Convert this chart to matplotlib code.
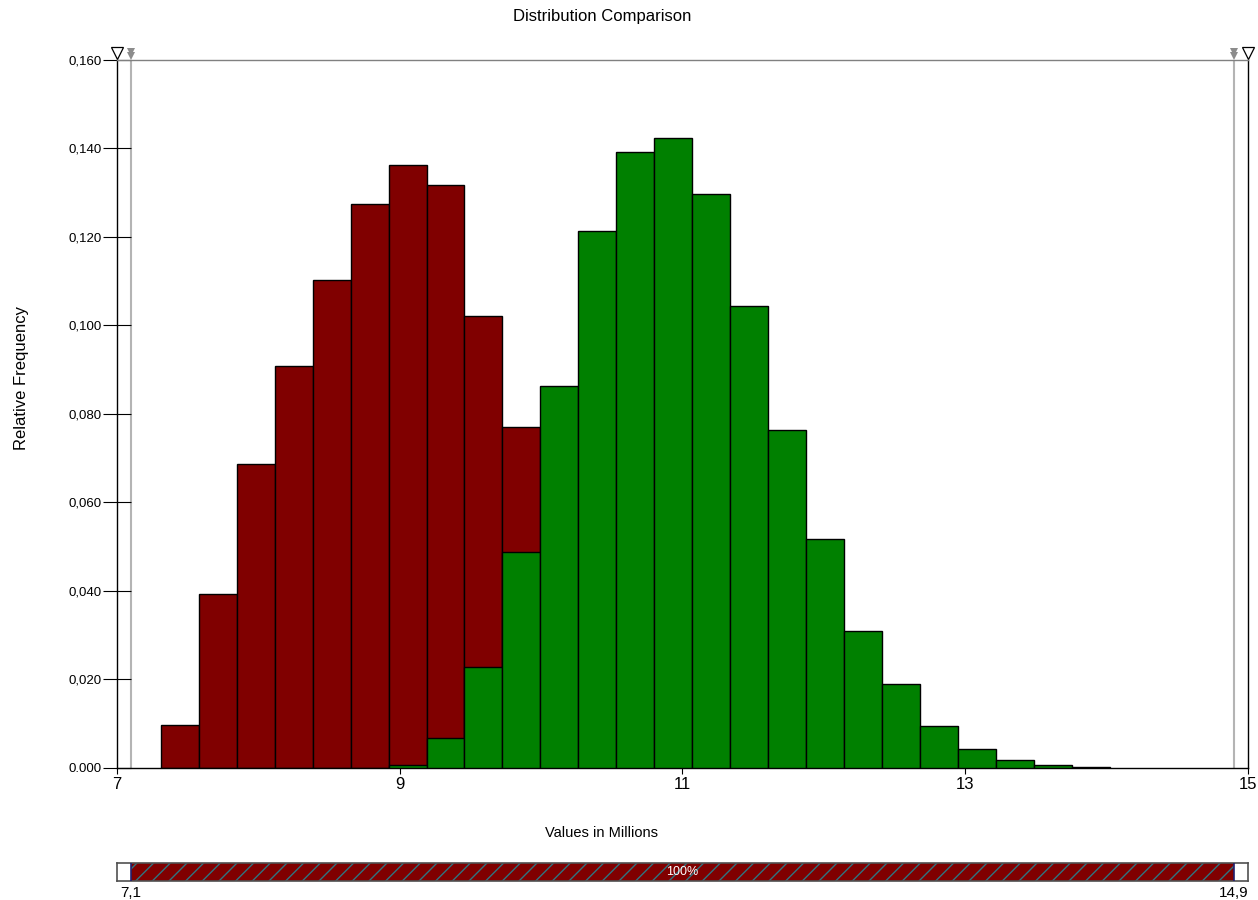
import numpy as np
import matplotlib.pyplot as plt
from matplotlib.patches import Rectangle

plt.rcParams['font.family'] = ['Liberation Sans', 'DejaVu Sans']

# 直方图分箱（百万）
bin_start = 7.31
bin_width = 0.2685

# 红色分布：第0到第9个分箱
red_first_bin = 0
red_freq = [0.0097, 0.0393, 0.0687, 0.0908, 0.1103, 0.1275, 0.1363, 0.1318, 0.1021, 0.0770]

# 绿色分布：第6到第24个分箱
green_first_bin = 6
green_freq = [0.0007, 0.0068, 0.0228, 0.0488, 0.0863, 0.1214, 0.1392, 0.1424, 0.1297,
              0.1044, 0.0764, 0.0518, 0.0310, 0.0190, 0.0095, 0.0043, 0.0018, 0.0007, 0.0002]

y_ticks = [0.000, 0.020, 0.040, 0.060, 0.080, 0.100, 0.120, 0.140, 0.160]
y_ticklabels = ['0.000', '0,020', '0,040', '0,060', '0,080', '0,100', '0,120', '0,140', '0,160']
x_ticks = [7, 9, 11, 13, 15]
x_ticklabels = ['7', '9', '11', '13', '15']

x_min, x_max = 7, 15
left_mark, right_mark = 7.1, 14.9  # 滑块的左右界限

fig = plt.figure(figsize=(12.58, 9), dpi=100)
ax = fig.add_axes([0.0930, 0.1467, 0.8990, 0.7867])

red_left = bin_start + bin_width * (red_first_bin + np.arange(len(red_freq)))
green_left = bin_start + bin_width * (green_first_bin + np.arange(len(green_freq)))

ax.bar(red_left, red_freq, width=bin_width, align='edge', color='#800000',
       edgecolor='black', linewidth=1.0, zorder=2)
ax.bar(green_left, green_freq, width=bin_width, align='edge', color='#008000',
       edgecolor='black', linewidth=1.0, zorder=3)

# 灰色的界限竖线
for xm in (left_mark, right_mark):
    ax.axvline(xm, color='#b4b4b4', linewidth=1.5, zorder=1)

ax.set_xlim(x_min, x_max)
ax.set_ylim(0, 0.160)
ax.set_xticks(x_ticks)
ax.set_xticklabels(x_ticklabels, fontsize=12)
ax.set_yticks(y_ticks)
ax.set_yticklabels(y_ticklabels, fontsize=9.5)
ax.tick_params(axis='y', direction='inout', length=20, width=0.8, pad=1)
ax.tick_params(axis='x', direction='out', length=4.5, width=0.8, pad=2)

for side in ('left', 'bottom', 'right'):
    ax.spines[side].set_color('black')
    ax.spines[side].set_linewidth(1.0)
ax.spines['top'].set_color('#808080')
ax.spines['top'].set_linewidth(1.0)

# 顶部三角标记
for xm in (x_min, x_max):
    ax.plot([xm], [0.1616], marker='v', markersize=9, markerfacecolor='white',
            markeredgecolor='black', markeredgewidth=0.9, clip_on=False, zorder=5)
for xm in (left_mark, right_mark):
    ax.plot([xm], [0.1617], marker='v', markersize=6, color='#8c8c8c',
            markeredgewidth=0, clip_on=False, zorder=5)
    ax.plot([xm], [0.1610], marker='v', markersize=6, color='#8c8c8c',
            markeredgewidth=0, clip_on=False, zorder=5)

fig.text(0.4785, 0.982, 'Distribution Comparison', ha='center', va='center', fontsize=12)
fig.text(0.4785, 0.0744, 'Values in Millions', ha='center', va='center', fontsize=10.5)
fig.text(0.017, 0.58, 'Relative Frequency', ha='center', va='center', rotation=90, fontsize=12)

# 底部滑块
sx = fig.add_axes([0.0930, 0.0211, 0.8990, 0.0200])
sx.set_xlim(x_min, x_max)
sx.set_ylim(0, 1)
sx.add_patch(Rectangle((left_mark, 0), right_mark - left_mark, 1, facecolor='#800000',
                       edgecolor='none', zorder=1))
sx.add_patch(Rectangle((left_mark, 0), right_mark - left_mark, 1, fill=False, hatch='//',
                       edgecolor='#2f7480', linewidth=0, zorder=2))
for xm in (left_mark, right_mark):
    sx.axvline(xm, color='#202070', linewidth=1.2, zorder=3)
sx.text((left_mark + right_mark) / 2, 0.5, '100%', color='white', ha='center', va='center',
        fontsize=9, zorder=4)
sx.set_xticks([])
sx.set_yticks([])
for side in sx.spines:
    sx.spines[side].set_color('#505050')
    sx.spines[side].set_linewidth(1.2)
sx.text(left_mark, -0.3, '7,1', ha='center', va='top', fontsize=11, clip_on=False)
sx.text(right_mark, -0.3, '14,9', ha='center', va='top', fontsize=11, clip_on=False)

fig.savefig('out.png', dpi=100)
